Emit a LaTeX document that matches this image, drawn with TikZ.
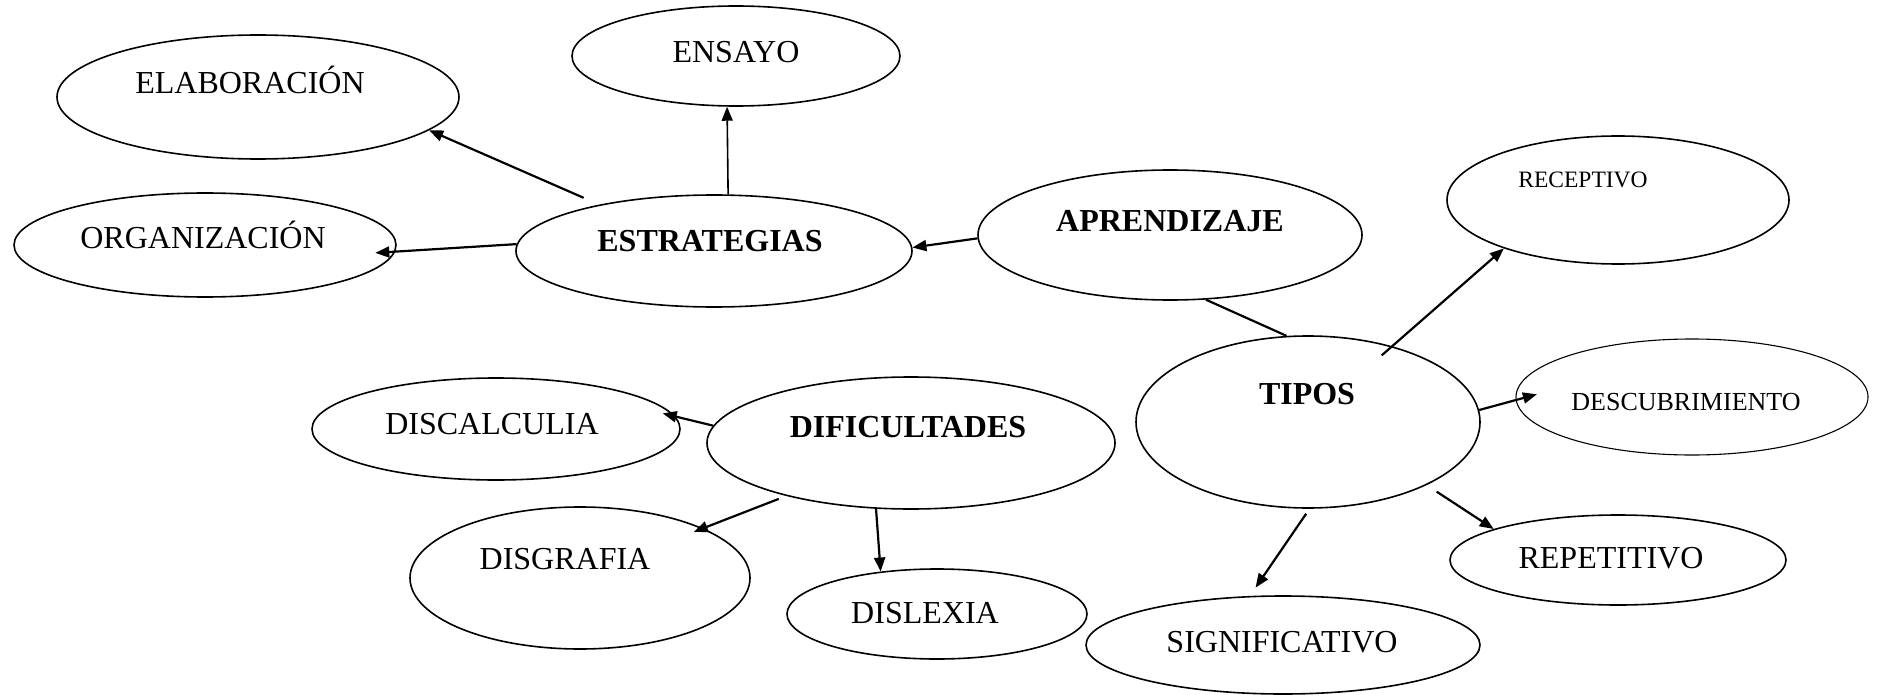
\documentclass[tikz,border=0pt]{standalone}
\usepackage{fontspec}
\setmainfont{Liberation Serif}
\usetikzlibrary{shapes.geometric,arrows.meta}
\begin{document}
\begin{tikzpicture}[x=1pt,y=-1pt,
  oval/.style={draw,ellipse,line width=1.6pt,inner sep=0pt},
  txt/.style={anchor=base,inner sep=0pt,font=\fontsize{32}{38}\selectfont},
  btxt/.style={anchor=base,inner sep=0pt,font=\fontsize{32}{38}\selectfont\bfseries},
  arr/.style={line width=2.2pt,-{Triangle[length=14pt,width=11pt]}},
  link/.style={line width=2.2pt}]
\useasboundingbox (0,0) rectangle (1881,695);
% ellipses
\node[oval,minimum width=402pt,minimum height=124pt] (elab) at (258,97) {};
\node[oval,minimum width=328pt,minimum height=100pt] (ens) at (736,56) {};
\node[oval,minimum width=382pt,minimum height=104pt] (org) at (205,245) {};
\node[oval,minimum width=396pt,minimum height=112pt] (estr) at (714,251) {};
\node[oval,minimum width=384pt,minimum height=130pt] (apr) at (1170,235) {};
\node[oval,minimum width=342pt,minimum height=128pt] (rec) at (1618,200) {};
\node[oval,minimum width=344pt,minimum height=172pt] (tip) at (1308,422) {};
\node[oval,line width=1.1pt,minimum width=352pt,minimum height=116pt] (desc) at (1692,397) {};
\node[oval,minimum width=368pt,minimum height=102pt] (disc) at (496,429) {};
\node[oval,minimum width=408pt,minimum height=132pt] (dif) at (911,443) {};
\node[oval,minimum width=340pt,minimum height=142pt] (disg) at (580,578) {};
\node[oval,minimum width=300pt,minimum height=90pt] (disl) at (937,614) {};
\node[oval,minimum width=394pt,minimum height=98pt] (sig) at (1283,645) {};
\node[oval,minimum width=336pt,minimum height=90pt] (rep) at (1618,560) {};
% texts
\node[txt] (telab) at (250,94) {ELABORACIÓN};
\node[txt] (tens) at (736,63) {ENSAYO};
\node[txt] (torg) at (203,248) {ORGANIZACIÓN};
\node[btxt] (testr) at (710,251) {ESTRATEGIAS};
\node[btxt] (tapr) at (1170,231) {APRENDIZAJE};
\node[txt,font=\fontsize{23.5}{28}\selectfont] (trec) at (1583,188) {RECEPTIVO};
\node[btxt] (ttip) at (1307,404) {TIPOS};
\node[txt,font=\fontsize{26}{31}\selectfont] (tdesc) at (1686,410) {DESCUBRIMIENTO};
\node[txt] (tdisc) at (492,434) {DISCALCULIA};
\node[btxt] (tdif) at (908,437) {DIFICULTADES};
\node[txt] (tdisg) at (565,569) {DISGRAFIA};
\node[txt] (tdisl) at (925,623) {DISLEXIA};
\node[txt] (tsig) at (1282,652) {SIGNIFICATIVO};
\node[txt] (trep) at (1611,568) {REPETITIVO};
% connectors
\draw[arr,shorten <=17pt] (estr.158) -- (elab.-11);
\draw[arr,line width=1.6pt] (estr.76) -- (ens.260);
\draw[arr,shorten >=-20pt] (estr.178) -- (org.-2);
\draw[arr] (apr.181) -- (estr.1.5);
\draw[link] (apr.-61) -- (tip.104);
\draw[arr,shorten <=-14pt] (tip.42) -- (rec.203.6);
\draw[arr,shorten >=-22pt] (tip.4.7) -- (desc.181.5);
\draw[arr,shorten <=6pt,shorten >=10pt] (tip.271) -- (sig.124);
\draw[arr,shorten <=12pt] (tip.-28.5) -- (rep.166);
\draw[arr,shorten >=-13pt] (dif.175) -- (disc.4.1);
\draw[arr,shorten <=8pt,shorten >=-10pt] (dif.203) -- (disg.22);
\draw[arr] (dif.242) -- (disl.143);
\end{tikzpicture}
\end{document}
